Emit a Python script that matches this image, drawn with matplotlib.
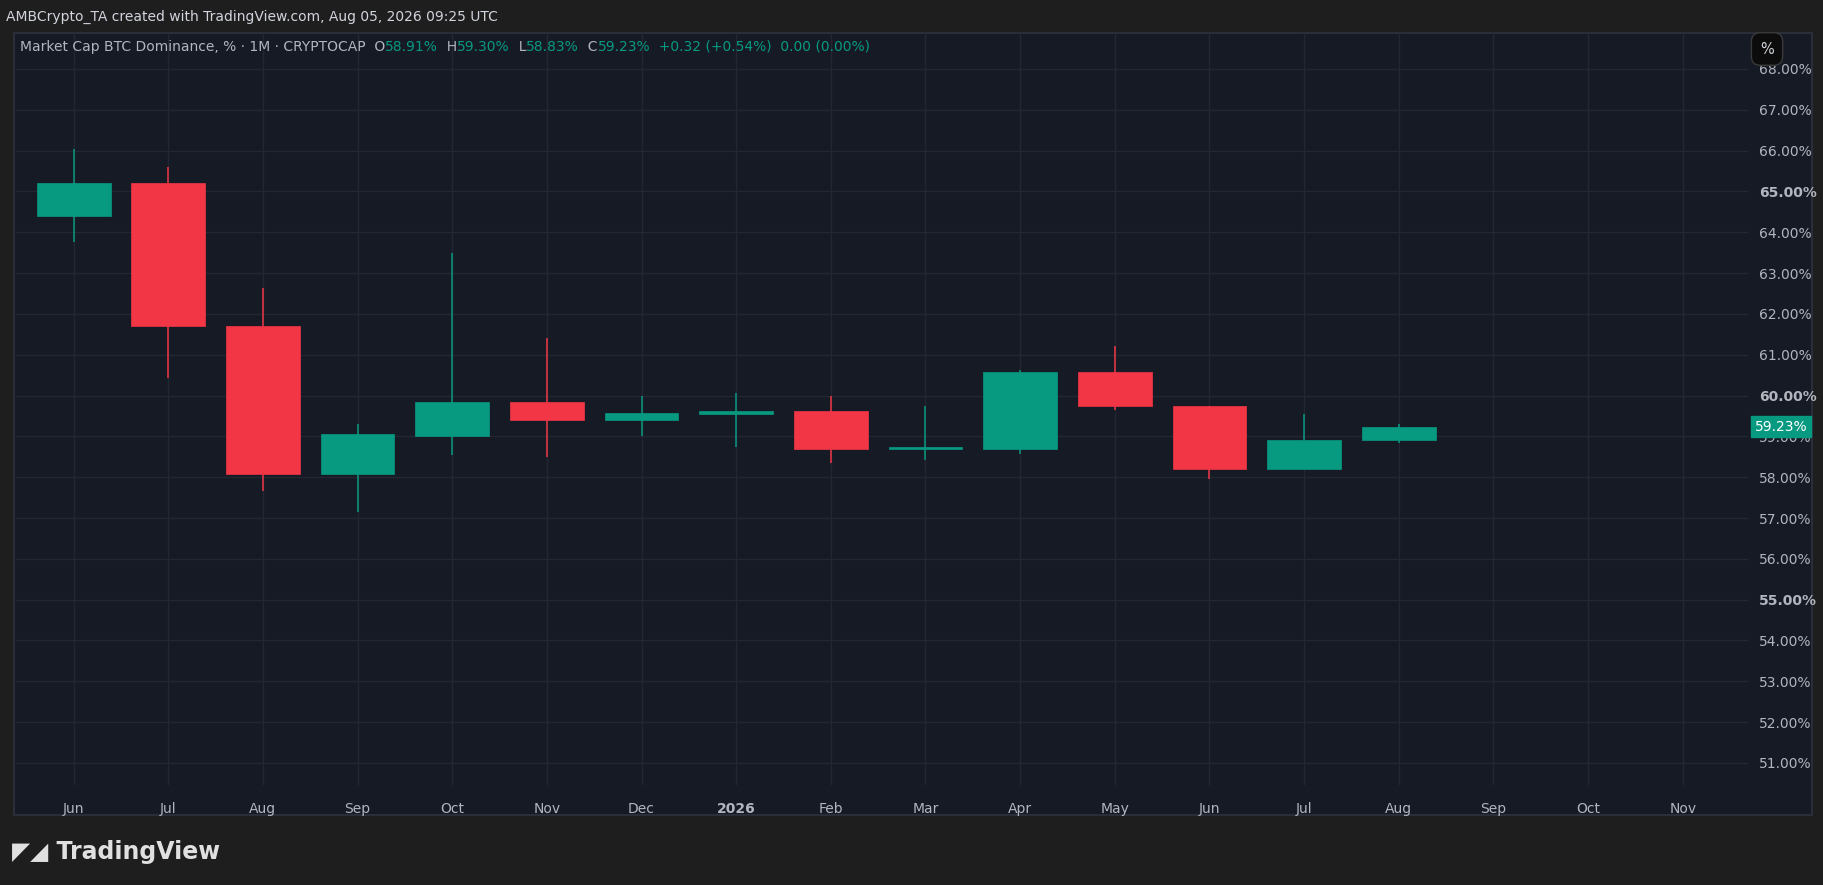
import matplotlib.pyplot as plt
from matplotlib.patches import Rectangle

months = ["Jun", "Jul", "Aug", "Sep", "Oct", "Nov", "Dec", "2026", "Feb",
          "Mar", "Apr", "May", "Jun", "Jul", "Aug", "Sep", "Oct", "Nov"]
opens = [64.40, 65.20, 61.70, 58.08, 59.00, 59.85, 59.40, 59.55, 59.62,
         58.70, 58.68, 60.58, 59.75, 58.20, 58.91]
highs = [66.03, 65.60, 62.64, 59.30, 63.50, 61.42, 60.00, 60.05, 60.00,
         59.75, 60.62, 61.22, 59.75, 59.55, 59.30]
lows = [63.75, 60.42, 57.66, 57.15, 58.55, 58.50, 59.00, 58.74, 58.34,
        58.43, 58.57, 59.65, 57.95, 58.20, 58.83]
closes = [65.20, 61.70, 58.08, 59.05, 59.85, 59.40, 59.58, 59.62, 58.70,
          58.75, 60.58, 59.75, 58.20, 58.90, 59.23]

UP, DOWN = "#089981", "#f23645"
PANEL, OUTER, GRID, TXT = "#161a25", "#1e1e1e", "#242733", "#b2b5be"

W, H = 1824, 885
fig = plt.figure(figsize=(W / 100, H / 100), dpi=100, facecolor=OUTER)
# chart panel as a background axes
bg = fig.add_axes([14 / W, 1 - 815 / H, (1812 - 14) / W, (815 - 33) / H], zorder=0)
bg.set_facecolor(PANEL)
bg.set_xticks([])
bg.set_yticks([])
for s in bg.spines.values():
    s.set_color("#2a2e39")
    s.set_linewidth(1.5)

ax = fig.add_axes([14 / W, 1 - 785 / H, (1748 - 14) / W, (785 - 33) / H], zorder=1)
ax.set_facecolor("none")

for i, (o, h, l, c) in enumerate(zip(opens, highs, lows, closes)):
    col = UP if c >= o else DOWN
    ax.vlines(i, l, h, color=col, lw=1.1, zorder=2)
    ax.add_patch(Rectangle((i - 0.39, min(o, c)), 0.78, max(abs(c - o), 0.03),
                           facecolor=col, edgecolor=col, lw=0.5, zorder=3))

ax.set_xlim(-0.63, 17.69)
ax.set_ylim(50.46, 68.88)
ax.set_xticks(range(len(months)))
ax.set_xticklabels(months)
ax.set_yticks(range(51, 69))
ax.set_yticklabels([f"{v}.00%" for v in range(51, 69)])
ax.yaxis.tick_right()
ax.grid(True, color=GRID, lw=1)
for s in ax.spines.values():
    s.set_visible(False)
ax.tick_params(length=0, colors=TXT, labelsize=10)
ax.tick_params(axis="x", pad=12)
ax.tick_params(axis="y", pad=8)
for lbl in ax.get_yticklabels():
    if lbl.get_text() in ("55.00%", "60.00%", "65.00%"):
        lbl.set_fontweight("bold")
for lbl in ax.get_xticklabels():
    if lbl.get_text() == "2026":
        lbl.set_fontweight("bold")

# last price tag
ax.text(1.004, 59.23, "59.23%", transform=ax.get_yaxis_transform(), color="white",
        fontsize=10, va="center", ha="left", clip_on=False, zorder=5,
        bbox=dict(boxstyle="square,pad=0.25", facecolor=UP, edgecolor=UP))

fig.text(6 / W, 1 - 17 / H, "AMBCrypto_TA created with TradingView.com, Aug 05, 2026 09:25 UTC",
         color="#d1d4dc", fontsize=10, va="center")
hx = 20 / W
parts = [("Market Cap BTC Dominance, % · 1M · CRYPTOCAP  O", TXT), ("58.91%", UP),
         ("  H", TXT), ("59.30%", UP), ("  L", TXT), ("58.83%", UP), ("  C", TXT),
         ("59.23%", UP), ("  +0.32 (+0.54%)  0.00 (0.00%)", UP)]
renderer = fig.canvas.get_renderer()
for s, col in parts:
    t = fig.text(hx, 1 - 47 / H, s, color=col, fontsize=10, va="center", zorder=3)
    hx += t.get_window_extent(renderer).width / W
fig.text(1767 / W, 1 - 49 / H, "%", color="#d1d4dc", fontsize=10.5, va="center",
         ha="center", zorder=3, bbox=dict(boxstyle="round,pad=0.6", facecolor="#0c0c0c",
                                         edgecolor="#3a3a3a"))
fig.text(12 / W, 1 - 852 / H, "◤◢ TradingView", color="#e0e0e0", fontsize=17,
         fontweight="bold", va="center")

fig.savefig("out.png", dpi=100, facecolor=OUTER)
